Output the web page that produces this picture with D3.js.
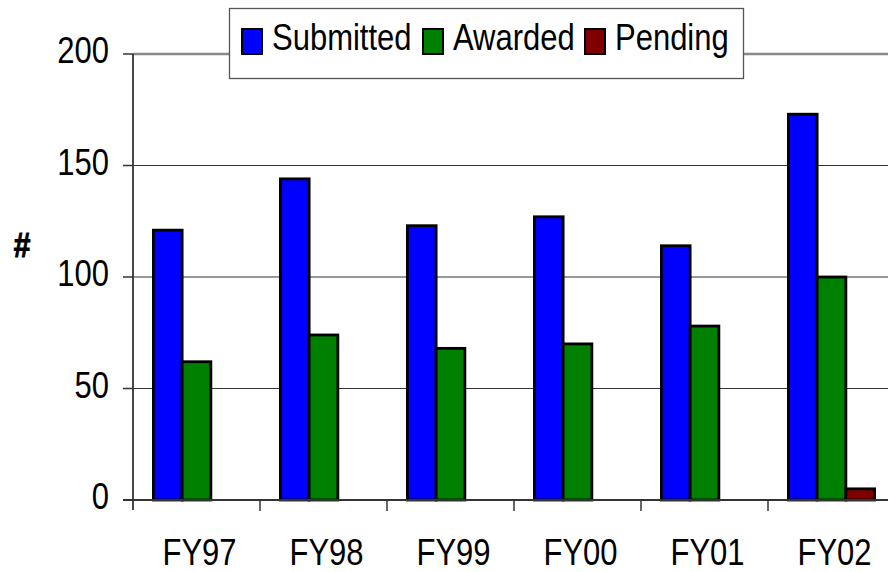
<!DOCTYPE html>
<html>
<head>
<meta charset="utf-8">
<script src="https://cdn.jsdelivr.net/npm/d3@7"></script>
<style>
  body { margin: 0; background: #fff; }
  svg { display: block; font-family: "Liberation Sans", Arial, sans-serif; }
</style>
</head>
<body>
<div id="chart"></div>
<script>
// data
const years = ["FY97", "FY98", "FY99", "FY00", "FY01", "FY02"];
const seriesNames = ["Submitted", "Awarded", "Pending"];
const submitted = [121, 144, 123, 127, 114, 173];
const awarded = [62, 74, 68, 70, 78, 100];
const pending = [0, 0, 0, 0, 0, 5];
const yTicks = [0, 50, 100, 150, 200];
const colors = ["#0000ff", "#008000", "#800000"];

const width = 888, height = 572;
const svg = d3.select("#chart").append("svg")
  .attr("width", width)
  .attr("height", height);

const x = d3.scaleBand().domain(years).range([133, 895]);
const xs = d3.scaleBand().domain(seriesNames).range([0, x.bandwidth()]).paddingOuter(0.71);
const y = d3.scaleLinear().domain([0, 200]).range([500, 54]);

// stretched text like the original (taller than wide)
function stretchText(g, txt, px, py, anchor, size, weight) {
  return g.append("text")
    .attr("transform", "translate(" + px + "," + py + ") scale(1,1.17)")
    .attr("text-anchor", anchor)
    .attr("font-size", size)
    .attr("font-weight", weight || "normal")
    .attr("fill", "#000")
    .text(txt);
}

// gridlines
svg.append("g").selectAll("line")
  .data(yTicks.filter(d => d > 0))
  .enter().append("line")
  .attr("x1", 133).attr("x2", 895)
  .attr("y1", d => y(d)).attr("y2", d => y(d))
  .attr("stroke", d => d == 200 ? "#888" : "#333")
  .attr("stroke-width", d => d == 200 ? 2.5 : 1.2);

// bars
const rows = years.map((yr, i) => ({ yr: yr, vals: [submitted[i], awarded[i], pending[i]] }));
const grp = svg.append("g").selectAll("g")
  .data(rows)
  .enter().append("g")
  .attr("transform", d => "translate(" + x(d.yr) + ",0)");

grp.selectAll("rect")
  .data(d => d.vals.map((v, j) => ({ name: seriesNames[j], v: v, j: j })).filter(e => e.v > 0))
  .enter().append("rect")
  .attr("x", d => xs(d.name))
  .attr("width", xs.bandwidth())
  .attr("y", d => y(d.v))
  .attr("height", d => y(0) - y(d.v))
  .attr("fill", d => colors[d.j])
  .attr("stroke", "#000")
  .attr("stroke-width", 2.8);

// axes
const axisCol = "#333";
svg.append("line").attr("x1", 133).attr("x2", 133).attr("y1", 54).attr("y2", 510)
  .attr("stroke", axisCol).attr("stroke-width", 1.8);
svg.append("line").attr("x1", 123).attr("x2", 895).attr("y1", 500).attr("y2", 500)
  .attr("stroke", axisCol).attr("stroke-width", 1.8);

// y ticks + labels
svg.append("g").selectAll("line")
  .data(yTicks)
  .enter().append("line")
  .attr("x1", 123).attr("x2", 133)
  .attr("y1", d => y(d)).attr("y2", d => y(d))
  .attr("stroke", axisCol).attr("stroke-width", 1.5);
const yl = svg.append("g");
yTicks.forEach(t => stretchText(yl, t, 109, y(t) + 9, "end", 31));

// x ticks + labels
const xEdges = years.map(d => x(d)).concat([x(years[years.length - 1]) + x.bandwidth()]);
svg.append("g").selectAll("line")
  .data(xEdges.slice(1))
  .enter().append("line")
  .attr("x1", d => d).attr("x2", d => d)
  .attr("y1", 500).attr("y2", 511)
  .attr("stroke", axisCol).attr("stroke-width", 1.5);
const xl = svg.append("g");
years.forEach(yr => stretchText(xl, yr, x(yr) + x.bandwidth() / 2 + 3, 565, "middle", 31));

// y title
stretchText(svg, "#", 22, 257, "middle", 30, "bold")
  .attr("stroke", "#000").attr("stroke-width", 0.8);

// legend
const lg = svg.append("g");
lg.append("rect").attr("x", 229.5).attr("y", 8.5).attr("width", 514).attr("height", 70)
  .attr("fill", "#fff").attr("stroke", "#555").attr("stroke-width", 1.3);
const legX = [242, 423, 585];
seriesNames.forEach((n, j) => {
  lg.append("rect").attr("x", legX[j]).attr("y", 29).attr("width", 20).attr("height", 25)
    .attr("fill", colors[j]).attr("stroke", "#000").attr("stroke-width", 2);
  stretchText(lg, n, legX[j] + 30, 50, "start", 31);
});
</script>
</body>
</html>
